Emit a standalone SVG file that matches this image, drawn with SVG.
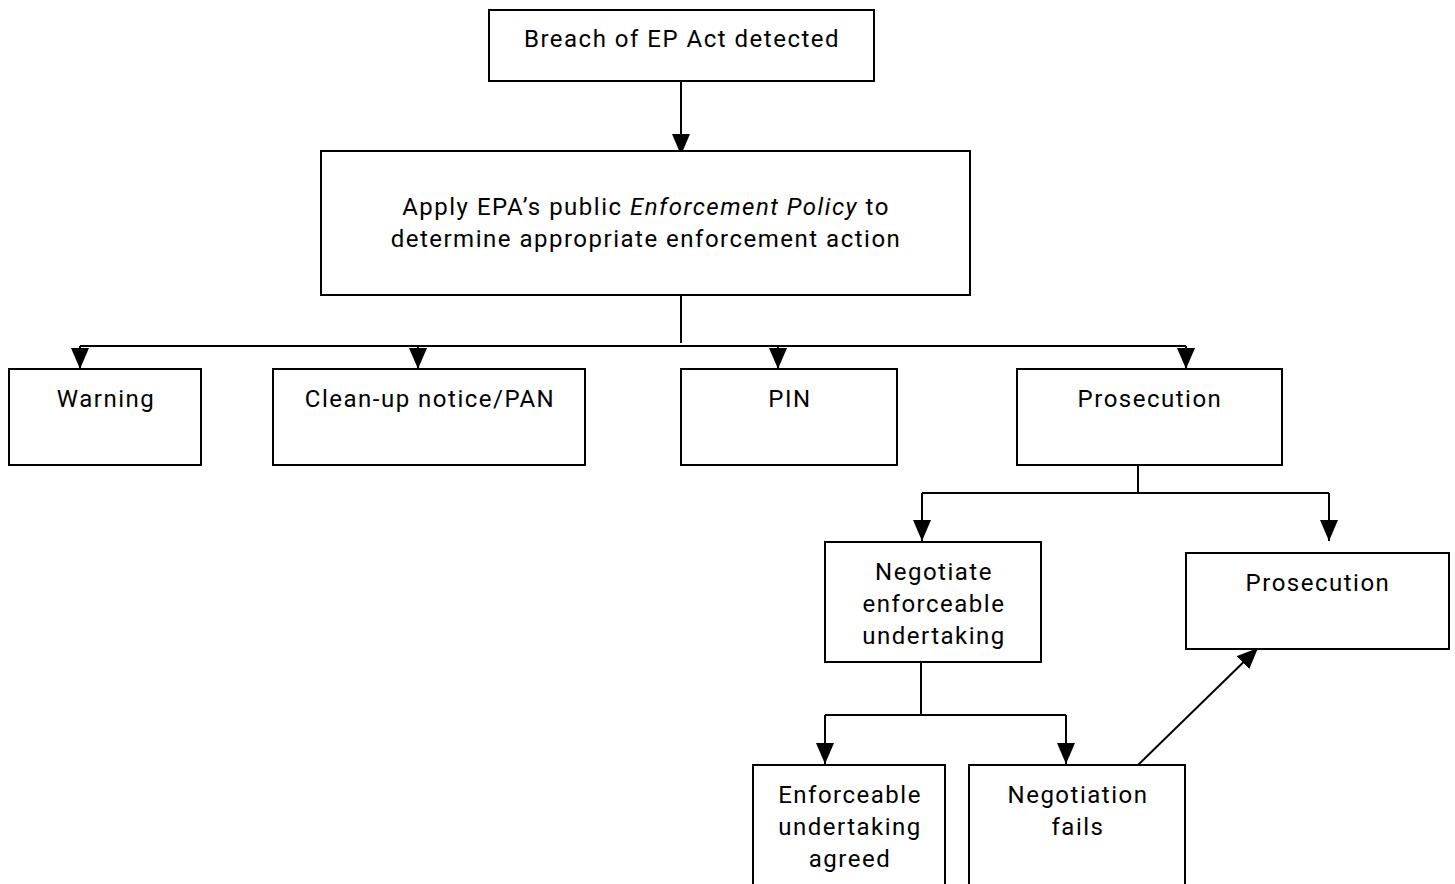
<svg xmlns="http://www.w3.org/2000/svg" width="1455" height="884" viewBox="0 0 1455 884">
<style>
.box{fill:#fff;stroke:#000;stroke-width:2}
.t{font-family:Roboto,"Liberation Sans",sans-serif;font-size:24px;letter-spacing:1.5px;fill:#000;text-anchor:middle}
.c{fill:none;stroke:#000;stroke-width:2}
</style>
<defs>
<marker id="ah" viewBox="0 0 21 18" refX="21" refY="9" markerWidth="21" markerHeight="18" markerUnits="userSpaceOnUse" orient="auto">
<path d="M0,0 L21,9 L0,18 Z" fill="#000"/>
</marker>
</defs>
<rect width="1455" height="884" fill="#fff"/>
<g id="connectors">
<path class="c" d="M681,81 V155" marker-end="url(#ah)"/>
<path class="c" d="M681,295 V343"/>
<path class="c" d="M80,346 H1186"/>
<path class="c" d="M80,346 V369" marker-end="url(#ah)"/>
<path class="c" d="M418,346 V369" marker-end="url(#ah)"/>
<path class="c" d="M778,346 V369" marker-end="url(#ah)"/>
<path class="c" d="M1186,346 V369" marker-end="url(#ah)"/>
<path class="c" d="M1138,465 V493 M922,493 H1329"/>
<path class="c" d="M922,493 V541" marker-end="url(#ah)"/>
<path class="c" d="M1329,493 V541" marker-end="url(#ah)"/>
<path class="c" d="M921,662 V715 M825,715 H1066"/>
<path class="c" d="M825,715 V764" marker-end="url(#ah)"/>
<path class="c" d="M1066,715 V764" marker-end="url(#ah)"/>
<path class="c" d="M1138,765 L1258,648" marker-end="url(#ah)"/>
</g>
<g id="breach"><rect class="box" x="489" y="10" width="385" height="71"/><text class="t" x="682" y="47">Breach of EP Act detected</text></g>
<g id="apply"><rect class="box" x="321" y="151" width="649" height="144"/>
<text class="t" x="646" y="215">Apply EPA’s public <tspan font-style="italic">Enforcement Policy</tspan> to</text>
<text class="t" x="646" y="247">determine appropriate enforcement action</text></g>
<g id="warning"><rect class="box" x="9" y="369" width="192" height="96"/><text class="t" x="106" y="407">Warning</text></g>
<g id="cleanup"><rect class="box" x="273" y="369" width="312" height="96"/><text class="t" x="430" y="407">Clean-up notice/PAN</text></g>
<g id="pin"><rect class="box" x="681" y="369" width="216" height="96"/><text class="t" x="790" y="407">PIN</text></g>
<g id="prosecution1"><rect class="box" x="1017" y="369" width="265" height="96"/><text class="t" x="1150" y="407">Prosecution</text></g>
<g id="negotiate"><rect class="box" x="825" y="542" width="216" height="120"/>
<text class="t" x="934" y="580">Negotiate</text><text class="t" x="934" y="612">enforceable</text><text class="t" x="934" y="644">undertaking</text></g>
<g id="prosecution2"><rect class="box" x="1186" y="553" width="263" height="96"/><text class="t" x="1318" y="591">Prosecution</text></g>
<g id="agreed"><rect class="box" x="753" y="765" width="192" height="130"/>
<text class="t" x="850" y="803">Enforceable</text><text class="t" x="850" y="835">undertaking</text><text class="t" x="850" y="867">agreed</text></g>
<g id="fails"><rect class="box" x="969" y="765" width="216" height="130"/>
<text class="t" x="1078" y="803">Negotiation</text><text class="t" x="1078" y="835">fails</text></g>
</svg>
